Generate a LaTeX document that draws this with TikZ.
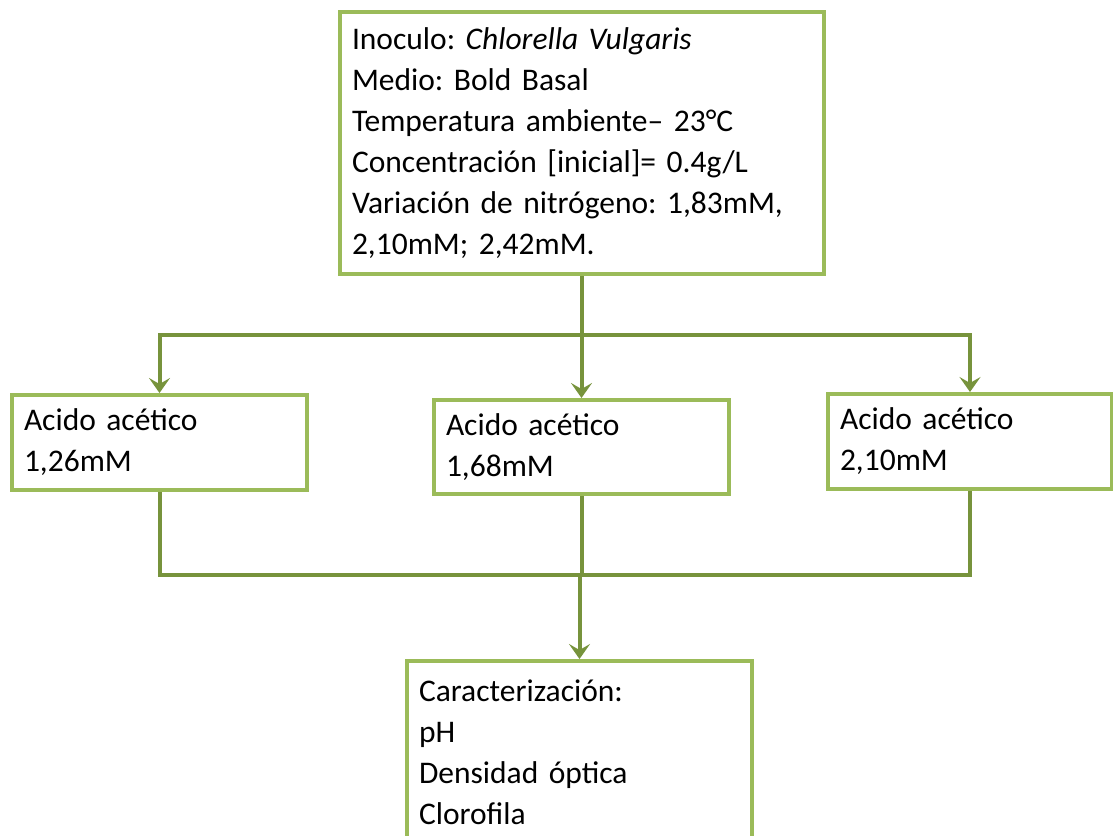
\documentclass[tikz,border=0pt]{standalone}
\usepackage{fontspec}
\setmainfont{Carlito}
\frenchspacing
\usetikzlibrary{arrows.meta}
\definecolor{boxgreen}{HTML}{9BBB59}
\definecolor{linegreen}{HTML}{77933C}
\begin{document}
\begin{tikzpicture}[x=1pt,y=-1pt,
  box/.style={draw=boxgreen, line width=4pt, fill=white, align=left, anchor=north west,
    inner xsep=12pt, inner ysep=0pt, font=\fontsize{31.5}{41}\selectfont\frenchspacing},
  conn/.style={draw=linegreen, line width=4pt},
  arr/.style={conn, -{Stealth[length=15pt,width=21pt,inset=6pt]}}]
\useasboundingbox (0,0) rectangle (1113,835);
\node[box, minimum width=484pt, minimum height=262pt, text width=460pt] (top) at (338,10)
  {Inoculo: \textit{Chlorella Vulgaris}\\Medio: Bold Basal\\Temperatura ambiente– 23°C\\Concentración [inicial]= 0.4g/L\\Variación de nitrógeno: 1,83mM,\\2,10mM; 2,42mM.};
\node[box, minimum width=295pt, minimum height=95pt, text width=271pt] (l) at (10,393)
  {Acido acético\\1,26mM};
\node[box, minimum width=295pt, minimum height=94pt, text width=271pt] (m) at (432,398)
  {Acido acético\\1,68mM};
\node[box, minimum width=284pt, minimum height=95pt, text width=260pt] (r) at (826,392)
  {Acido acético\\2,10mM};
\node[box, minimum width=345pt, minimum height=182pt, text width=321pt] (b) at (405,659)
  {Caracterización:\\pH\\Densidad óptica\\Clorofila};
\coordinate (j1) at (top.south |- 0,335);
\coordinate (j2) at (m.south |- 0,575);
\draw[conn] (top.south) -- (j1);
\draw[arr] (j1) -| (l.north);
\draw[arr] (j1) -| (r.north);
\draw[arr] (j1) -- (j1 -| m.north) -- (m.north);
\draw[conn] (l.south) |- (j2);
\draw[conn] (r.south) |- (j2);
\draw[conn] (m.south) -- (j2);
\draw[arr] (j2) -- (j2 -| b.north) -- (b.north);
\end{tikzpicture}
\end{document}
